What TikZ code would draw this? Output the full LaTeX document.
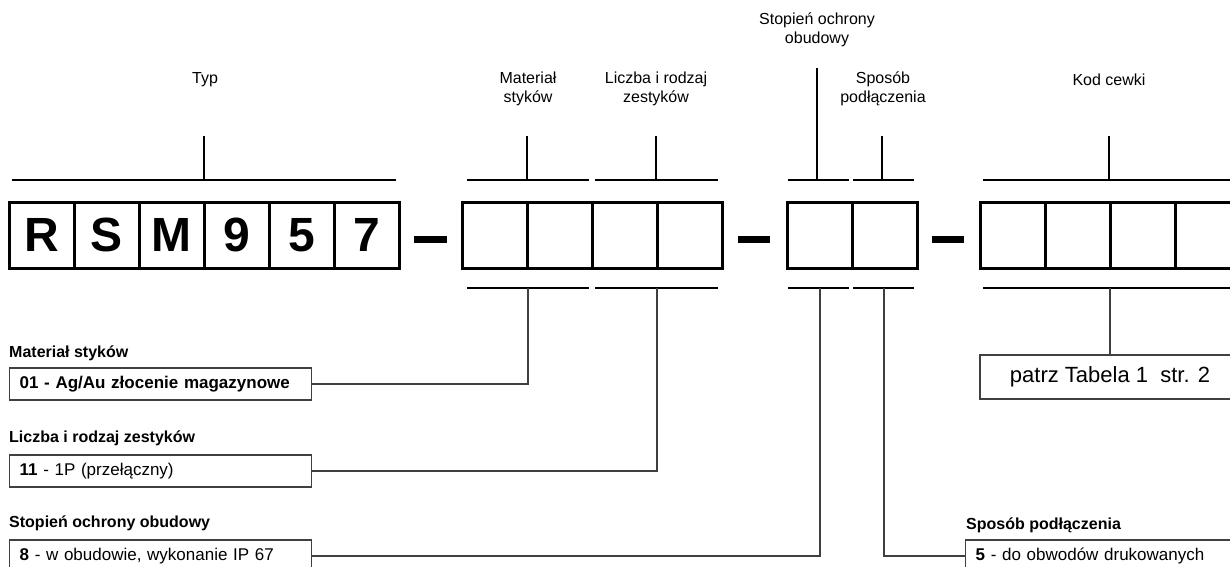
\documentclass[tikz,border=0pt]{standalone}
\usepackage{fontspec}
\setmainfont{Liberation Sans}
\begin{document}
\begin{tikzpicture}[x=1pt,y=-1pt,
  cell/.style={draw, line width=3pt, minimum width=65pt, minimum height=66pt, inner sep=0pt, font=\fontsize{48}{48}\selectfont\bfseries},
  bar/.style={line width=2.7pt},
  tick/.style={line width=2.5pt},
  conn/.style={line width=1.5pt, draw=black!75},
  lbl/.style={font=\fontsize{16}{19}\selectfont, align=center, inner sep=0pt},
  head/.style={font=\fontsize{16}{16}\selectfont\bfseries, anchor=west, inner sep=0pt},
  desc/.style={draw=black!75, line width=1.3pt, minimum height=32pt, text width=282pt, align=left, inner xsep=10pt, inner ysep=0pt, anchor=west, font=\fontsize{17}{17}\selectfont},
  dashbar/.style={fill, minimum width=33pt, minimum height=7pt, inner sep=0pt}
]
\useasboundingbox (0,0) rectangle (1230,566);
\clip (0,0) rectangle (1230,566);

% code cells
\foreach \t [count=\i] in {R,S,M,9,5,7}
  \node[cell] (r\i) at ({9+32.5+65*(\i-1)},235) {\t};
\foreach \i in {1,...,4}
  \node[cell] (a\i) at ({462+32.5+65*(\i-1)},235) {};
\foreach \i in {1,2}
  \node[cell] (b\i) at ({787+32.5+65*(\i-1)},235) {};
\foreach \i in {1,...,4}
  \node[cell] (c\i) at ({980+32.5+65*(\i-1)},235) {};

\node[dashbar] (d1) at (430,239) {};
\node[dashbar, minimum width=32pt] (d2) at (754,239) {};
\node[dashbar, minimum width=32pt] (d3) at (948,239) {};

% top labels
\node[lbl] (lTyp) at (205,80) {Typ};
\node[lbl] (lMat) at (528,89) {Materiał\\styków};
\node[lbl] (lLic) at (656,89) {Liczba i rodzaj\\zestyków};
\node[lbl] (lSto) at (817,30) {Stopień ochrony\\obudowy};
\node[lbl] (lSpo) at (883,89) {Sposób\\podłączenia};
\node[lbl] (lKod) at (1109,80) {Kod cewki};

% top bars
\draw[bar] (12,180) -- (396,180);
\draw[bar] (467,180) -- (589,180);
\draw[bar] (595,180) -- (718,180);
\draw[bar] (788,180) -- (849,180);
\draw[bar] (853,180) -- (914,180);
\draw[bar] (983,180) -- (1240,180);
\coordinate (tTyp) at (204,180);
\coordinate (tMat) at (527,180);
\coordinate (tLic) at (656,180);
\coordinate (tSto) at (817,180);
\coordinate (tSpo) at (882,180);
\coordinate (tKod) at (1109,180);
\coordinate (eTyp) at (204,136);
\coordinate (eMat) at (527,136);
\coordinate (eLic) at (656,136);
\coordinate (eSto) at (817,68);
\coordinate (eSpo) at (882,136);
\coordinate (eKod) at (1109,136);
\draw[tick] (tTyp) -- (eTyp);
\draw[tick] (tMat) -- (eMat);
\draw[tick] (tLic) -- (eLic);
\draw[tick] (tSto) -- (eSto);
\draw[tick] (tSpo) -- (eSpo);
\draw[tick] (tKod) -- (eKod);

% bottom bars
\draw[bar] (467,288) -- (589,288);
\draw[bar] (595,288) -- (718,288);
\draw[bar] (788,288) -- (849,288);
\draw[bar] (853,288) -- (914,288);
\draw[bar] (983,288) -- (1240,288);
\coordinate (bMat) at (528,288);
\coordinate (bLic) at (657,288);
\coordinate (bSto) at (820,288);
\coordinate (bSpo) at (884,288);
\coordinate (bKod) at (1110,288);

% descriptions
\node[head] (hMat) at (9,353) {Materiał styków};
\node[desc] (dMat) at (9,384) {\bfseries 01 - Ag/Au złocenie magazynowe};
\node[head] (hLic) at (9,438) {Liczba i rodzaj zestyków};
\node[desc] (dLic) at (9,471) {\textbf{11} - 1P (przełączny)};
\node[head] (hSto) at (9,523) {Stopień ochrony obudowy};
\node[desc] (dSto) at (9,556) {\textbf{8} - w obudowie, wykonanie IP 67};
\node[head] (hSpo) at (966,525) {Sposób podłączenia};
\node[desc] (dSpo) at (965,556) {\textbf{5} - do obwodów drukowanych};
\node[draw=black!75, line width=1.3pt, minimum width=260pt, minimum height=44pt, inner sep=0pt, font=\fontsize{22}{22}\selectfont] (dKod) at (1110,377) {patrz Tabela 1\ \ str. 2};

% connectors
\draw[conn] (dMat.east) -| (bMat);
\draw[conn] (dLic.east) -| (bLic);
\draw[conn] (dSto.east) -| (bSto);
\draw[conn] (dSpo.west) -| (bSpo);
\draw[conn] (dKod.north) -- (bKod);
\end{tikzpicture}
\end{document}
